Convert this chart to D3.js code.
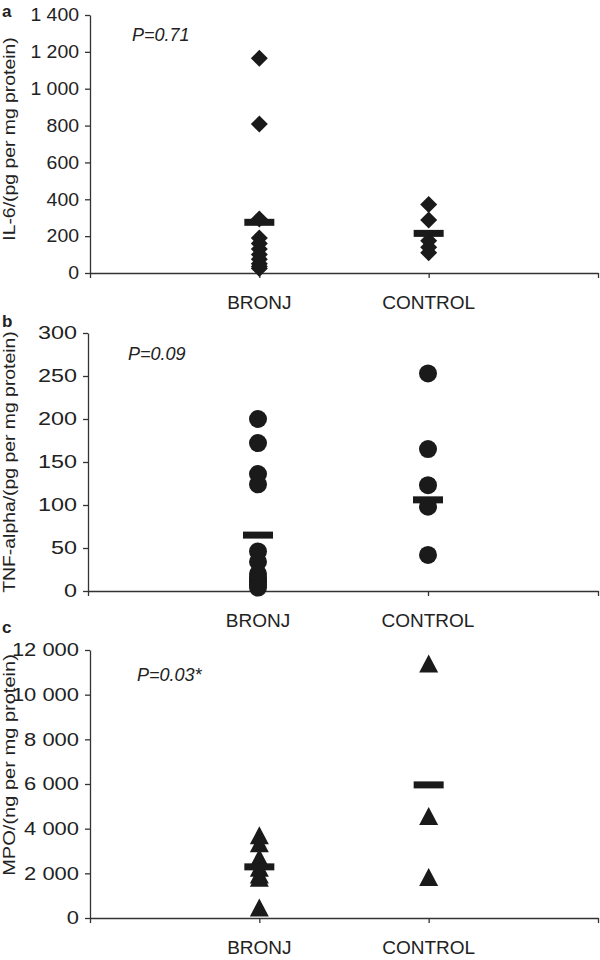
<!DOCTYPE html>
<html lang="en">
<head>
    <meta charset="UTF-8"/>
    <title>BRONJ vs control</title>
    <script src="https://d3js.org/d3.v7.min.js"></script>
    <style>
        body { margin: 0; background: #fff; }
        text { font-family: "Liberation Sans", Arial, sans-serif; fill: #222; }
        .axis path, .axis line { stroke: #333; stroke-width: 1.3px; }
    </style>
</head>
<body>
<div id="chart"></div>
<script>
    // groups on the x axis
    const groups = ["BRONJ", "CONTROL"];

    // panel a: IL-6 (pg per mg protein)
    const il6Bronj = [1165, 808, 293, 190, 160, 130, 100, 75, 50, 35, 25];
    const il6Control = [372, 288, 175, 140, 110];
    const il6Means = [275, 215];
    const il6Ticks = [0, 200, 400, 600, 800, 1000, 1200, 1400];

    // panel b: TNF-alpha (pg per mg protein)
    const tnfBronj = [200, 172, 136, 124, 46, 34, 20, 15, 12, 10, 7, 4];
    const tnfControl = [253, 165, 123, 98, 42];
    const tnfMeans = [65, 106];
    const tnfTicks = [0, 50, 100, 150, 200, 250, 300];

    // panel c: MPO (ng per mg protein)
    const mpoBronj = [3700, 3350, 2700, 2550, 2250, 1950, 1800, 470];
    const mpoControl = [11400, 4570, 1840];
    const mpoMeans = [2290, 5960];
    const mpoTicks = [0, 2000, 4000, 6000, 8000, 10000, 12000];

    const fmt = d3.formatLocale({decimal: ".", thousands: " ", grouping: [3], currency: ["", ""]}).format(",d");

    const svg = d3.select("#chart").append("svg")
        .attr("width", 600)
        .attr("height", 960);

    // marker shapes
    const diamond = "M0,-8.5L8.5,0L0,8.5L-8.5,0Z";
    const triangle = "M0,-9L9.5,9L-9.5,9Z";

    // the source text is wider than Arial, so tick labels and titles get a
    // horizontal stretch (sx for ticks, tsx for the rotated title)
    const panels = [
        {letter: "a", title: "IL-6/(pg per mg protein)", p: "P=0.71", data: [il6Bronj, il6Control], means: il6Means,
            ticks: il6Ticks, left: 90, top: 15, bottom: 273, titleY: 139, tsx: 1.14, sx: 1.08,
            px: 132, py: 41, letterY: 17, shape: "diamond"},
        {letter: "b", title: "TNF-alpha/(pg per mg protein)", p: "P=0.09", data: [tnfBronj, tnfControl], means: tnfMeans,
            ticks: tnfTicks, left: 88, top: 333, bottom: 591, titleY: 462, tsx: 1.14, sx: 1.3,
            px: 128, py: 360, letterY: 327, shape: "circle"},
        {letter: "c", title: "MPO/(ng per mg protein)", p: "P=0.03*", data: [mpoBronj, mpoControl], means: mpoMeans,
            ticks: mpoTicks, left: 90, top: 650, bottom: 918, titleY: 765, tsx: 1.18, sx: 1.22,
            px: 137, py: 681, letterY: 633, shape: "triangle"}
    ];

    panels.forEach(function(pn) {
        const g = svg.append("g");

        const x = d3.scaleLinear().domain([0, 3]).range([pn.left, 598]);
        const y = d3.scaleLinear().domain([0, d3.max(pn.ticks)]).range([pn.bottom, pn.top]);

        // x axis
        g.append("g")
            .attr("class", "axis")
            .attr("transform", "translate(0," + pn.bottom + ")")
            .call(d3.axisBottom(x).tickValues([0, 1, 2, 3]).tickSize(5).tickSizeOuter(0).tickFormat(""));

        // y axis
        g.append("g")
            .attr("class", "axis")
            .attr("transform", "translate(" + pn.left + ",0)")
            .call(d3.axisLeft(y).tickValues(pn.ticks).tickSize(5).tickSizeOuter(0).tickPadding(6).tickFormat(fmt))
            .selectAll("text")
            .attr("font-family", null)
            .attr("x", -11 / pn.sx)
            .attr("transform", "scale(" + pn.sx + ",1)")
            .style("font-size", "18px")
            .style("fill", "#222");

        // group labels
        g.selectAll(".grp")
            .data(groups)
            .enter().append("text")
            .attr("x", function(d, i) { return x(i + 1); })
            .attr("y", pn.bottom + 36)
            .attr("text-anchor", "middle")
            .style("font-size", "19px")
            .text(function(d) { return d; });

        // points
        pn.data.forEach(function(vals, i) {
            const sel = g.selectAll(".pt" + i).data(vals).enter();
            if (pn.shape === "circle") {
                sel.append("circle")
                    .attr("cx", x(i + 1))
                    .attr("cy", function(d) { return y(d); })
                    .attr("r", 9)
                    .style("fill", "#1a1a1a");
            } else {
                sel.append("path")
                    .attr("d", pn.shape === "diamond" ? diamond : triangle)
                    .attr("transform", function(d) { return "translate(" + x(i + 1) + "," + y(d) + ")"; })
                    .style("fill", "#1a1a1a");
            }
        });

        // mean bars
        g.selectAll(".mean")
            .data(pn.means)
            .enter().append("rect")
            .attr("x", function(d, i) { return x(i + 1) - 15; })
            .attr("y", function(d) { return y(d) - 3.5; })
            .attr("width", 30)
            .attr("height", 7)
            .style("fill", "#1a1a1a");

        // y title
        g.append("text")
            .attr("transform", "translate(15," + pn.titleY + ") rotate(-90) scale(" + pn.tsx + ",1)")
            .attr("text-anchor", "middle")
            .style("font-size", "17px")
            .text(pn.title);

        // p value
        g.append("text")
            .attr("x", pn.px)
            .attr("y", pn.py)
            .style("font-size", "18px")
            .style("font-style", "italic")
            .text(pn.p);

        // panel letter
        g.append("text")
            .attr("x", 2)
            .attr("y", pn.letterY)
            .style("font-size", "17px")
            .style("font-weight", "bold")
            .text(pn.letter);
    });
</script>
</body>
</html>
